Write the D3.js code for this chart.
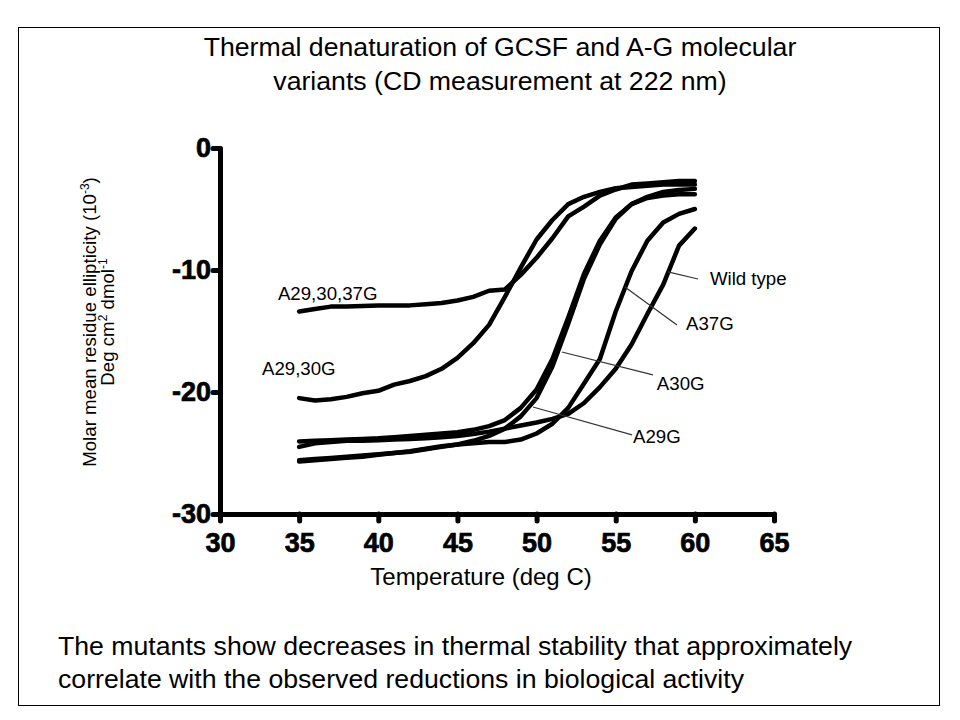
<!DOCTYPE html>
<html>
<head>
<meta charset="utf-8">
<script src="https://cdnjs.cloudflare.com/ajax/libs/d3/7.8.5/d3.min.js"></script>
<style>
  html, body { margin: 0; padding: 0; background: #fff; }
  svg { display: block; font-family: "Liberation Sans", Arial, sans-serif; }
</style>
</head>
<body>
<svg id="chart" width="960" height="720"></svg>
<script>
// ---------- DATA ----------
const temperatures = [35,36,37,38,39,40,41,42,43,44,45,46,47,48,49,50,51,52,53,54,55,56,57,58,59,60];

const wildType  = [-24.5,-24.2,-24.1,-24.0,-24.0,-23.95,-23.9,-23.85,-23.8,-23.7,-23.6,-23.45,-23.25,-23.0,-22.75,-22.5,-22.2,-21.8,-20.9,-19.6,-18.1,-16.1,-13.6,-11.2,-8.0,-6.6];
const a37G      = [-25.7,-25.6,-25.5,-25.4,-25.3,-25.15,-25.0,-24.85,-24.65,-24.45,-24.3,-24.2,-24.1,-24.1,-23.9,-23.4,-22.6,-21.3,-19.3,-17.3,-13.4,-10.1,-7.6,-6.1,-5.4,-5.0];
const a30G      = [-24.05,-24.0,-23.95,-23.9,-23.85,-23.8,-23.7,-23.6,-23.5,-23.4,-23.3,-23.1,-22.8,-22.3,-21.3,-19.8,-17.3,-13.9,-10.3,-7.6,-5.7,-4.6,-4.1,-3.9,-3.8,-3.8];
const a29G      = [-25.6,-25.5,-25.4,-25.3,-25.2,-25.1,-25.0,-24.9,-24.7,-24.5,-24.3,-24.0,-23.6,-23.0,-22.0,-20.5,-17.9,-14.4,-10.7,-7.9,-5.8,-4.6,-4.0,-3.6,-3.45,-3.35];
const a2930G    = [-20.5,-20.7,-20.6,-20.4,-20.1,-19.9,-19.4,-19.1,-18.7,-18.1,-17.2,-16.0,-14.5,-12.2,-9.8,-7.5,-5.9,-4.6,-4.0,-3.6,-3.3,-3.2,-3.1,-3.0,-3.0,-3.0];
const a293037G  = [-13.4,-13.2,-13.0,-13.0,-12.95,-12.9,-12.9,-12.9,-12.8,-12.7,-12.5,-12.2,-11.7,-11.6,-10.4,-9.0,-7.4,-5.6,-4.8,-3.9,-3.4,-3.0,-2.9,-2.8,-2.7,-2.7];

const seriesNames = ["Wild type","A37G","A30G","A29G","A29,30G","A29,30,37G"];
const seriesValues = [wildType, a37G, a30G, a29G, a2930G, a293037G];

const xTicks = [30,35,40,45,50,55,60,65];
const yTicks = [0,-10,-20,-30];

// label anchors (data units): [name, T, value]
const labelAnchors = [
  ["A29,30,37G", 33.66, -12.46],
  ["A29,30G",    32.65, -18.6],
  ["Wild type",  60.95, -11.23],
  ["A37G",       59.44, -14.92],
  ["A30G",       57.6,  -19.84],
  ["A29G",       56.09, -24.18]
];
// leader lines (data units): [fromT, fromV, toT, toV]
const leaders = [
  [60.2, -10.74, 58.3, -10.16],
  [58.87, -14.51, 55.58, -11.39],
  [57.35, -18.6, 51.6, -16.72],
  [56.03, -23.52, 49.77, -21.23]
];

const titleLines = ["Thermal denaturation of GCSF and A-G molecular", "variants (CD measurement at 222 nm)"];
const footerLines = ["The mutants show decreases in thermal stability that approximately",
                     "correlate with the observed reductions in biological activity"];

// ---------- DRAW ----------
const svg = d3.select("#chart");

svg.append("rect").attr("x", 18.5).attr("y", 27.5).attr("width", 921).attr("height", 678)
  .attr("fill", "#fff").attr("stroke", "#000").attr("stroke-width", 1);

const x = d3.scaleLinear().domain([30, 65]).range([220, 774]);
const y = d3.scaleLinear().domain([-30, 0]).range([514, 148]);

// title
svg.append("g").selectAll("text").data(titleLines).join("text")
  .attr("x", 500).attr("y", (d, i) => 56 + i * 34)
  .attr("text-anchor", "middle").attr("font-size", 26.67).attr("fill", "#000")
  .text(d => d);

// footer
svg.append("g").selectAll("text").data(footerLines).join("text")
  .attr("x", 58).attr("y", (d, i) => 655 + i * 33)
  .attr("font-size", 26.67).attr("fill", "#000")
  .text(d => d);

// axes
function styleAxis(g) {
  g.select(".domain").attr("stroke", "#000").attr("stroke-width", 5).attr("stroke-linecap", "round");
  g.selectAll(".tick line").attr("stroke", "#000").attr("stroke-width", 5).attr("stroke-linecap", "round");
  g.selectAll(".tick text").attr("font-family", "'Liberation Sans', Arial, sans-serif")
    .attr("font-size", 27).attr("font-weight", "bold").attr("fill", "#000")
    .attr("stroke", "#000").attr("stroke-width", 0.7);
}

const fmt = d => String(d);
const xAxis = d3.axisBottom(x).tickValues(xTicks).tickSize(7).tickSizeOuter(0).tickPadding(12).tickFormat(fmt);
svg.append("g").attr("transform", "translate(0,514)").call(xAxis).call(styleAxis);

const yAxis = d3.axisLeft(y).tickValues(yTicks).tickSize(7).tickSizeOuter(0).tickPadding(2).tickFormat(fmt);
svg.append("g").attr("transform", "translate(220,0)").call(yAxis).call(styleAxis);

// axis titles
svg.append("text").attr("x", 481).attr("y", 585).attr("text-anchor", "middle")
  .attr("font-size", 24).attr("fill", "#000").text("Temperature (deg C)");

const yt = svg.append("g").attr("transform", "translate(0,322) rotate(-90)");
const l1 = yt.append("text").attr("x", 0).attr("y", 96).attr("text-anchor", "middle").attr("font-size", 18.67).attr("fill", "#000");
l1.append("tspan").text("Molar mean residue ellipticity (10");
l1.append("tspan").attr("font-size", 12).attr("dy", -7).text("-3");
l1.append("tspan").attr("dy", 7).text(")");
const l2 = yt.append("text").attr("x", 0).attr("y", 114).attr("text-anchor", "middle").attr("font-size", 18.67).attr("fill", "#000");
l2.append("tspan").text("Deg cm");
l2.append("tspan").attr("font-size", 12).attr("dy", -7).text("2");
l2.append("tspan").attr("dy", 7).text(" dmol");
l2.append("tspan").attr("font-size", 12).attr("dy", -7).text("-1");

// curves
const line = d3.line().x(d => x(d[0])).y(d => y(d[1])).curve(d3.curveLinear);
svg.append("g").selectAll("path").data(seriesValues).join("path")
  .attr("d", vals => line(temperatures.map((t, i) => [t, vals[i]])))
  .attr("fill", "none").attr("stroke", "#000").attr("stroke-width", 4.5)
  .attr("stroke-linejoin", "round").attr("stroke-linecap", "round");

// leader lines
svg.append("g").selectAll("line").data(leaders).join("line")
  .attr("x1", d => x(d[0])).attr("y1", d => y(d[1]))
  .attr("x2", d => x(d[2])).attr("y2", d => y(d[3]))
  .attr("stroke", "#333").attr("stroke-width", 1.2);

// labels
svg.append("g").selectAll("text").data(labelAnchors).join("text")
  .attr("x", d => x(d[1])).attr("y", d => y(d[2]))
  .attr("font-size", 18.67).attr("fill", "#000")
  .text(d => d[0]);
</script>
</body>
</html>
